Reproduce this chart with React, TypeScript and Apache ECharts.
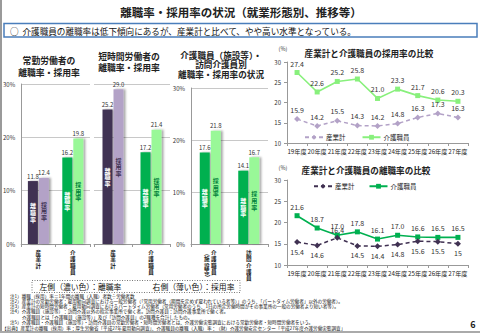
import React, { useEffect, useRef } from "react";
import * as echarts from "echarts";

const FONT = "'Noto Sans CJK JP', 'Noto Sans', sans-serif";

// 常勤労働者
const fullCats = ["産業計", "介護職員"];
const fullSep = [11.8, 16.2];
const fullHire = [12.4, 19.8];
// 短時間労働者
const partCats = ["産業計", "介護職員"];
const partSep = [25.2, 17.2];
const partHire = [29.0, 21.4];
// 介護職員（施設等）・訪問介護員
const careCats = ["介護職員（施設等）", "訪問介護員"];
const careSep = [17.6, 14.1];
const careHire = [21.8, 16.7];
const barTicks = ["0%", "10%", "20%", "30%"];

// 推移
const years = ["19年度", "20年度", "21年度", "22年度", "23年度", "24年度", "25年度", "26年度", "27年度"];
const hireIndustry = [15.9, 14.2, 15.5, 14.3, 14.2, 14.8, 16.3, 17.3, 16.3];
const hireCare = [27.4, 22.6, 25.2, 25.8, 21.0, 23.3, 21.7, 20.6, 20.3];
const sepIndustry = [15.4, 14.6, 16.4, 14.5, 14.4, 14.8, 15.6, 15.5, 15.0];
const sepCare = [21.6, 18.7, 17.0, 17.8, 16.1, 17.0, 16.6, 16.5, 16.5];

const notes = [
  "注1）離職（採用）率＝1年間の離職（入職）者数÷労働者数",
  "注2）産業計の常勤労働者：雇用動向調査における一般労働者（「常用労働者（期間を定めず雇われている者等）」のうち、「パートタイム労働者」以外の労働者）。",
  "注3）産業計の短時間労働者：雇用動向調査におけるパートタイム労働者（常用労働者のうち、1日の所定労働時間がその事業所の一般の労働者より短い者等）。",
  "注4）介護職員（施設等）：訪問介護以外の指定事業所で働く者。訪問介護員：訪問介護事業所で働く者。",
  "介護職員とは「介護職員（施設等）」及び「訪問介護員」の2職種を合計したもの。",
  "注5）介護職員・介護職員（施設等）・訪問介護員の常勤労働者・短時間労働者とは、介護労働実態調査における常勤労働者・短時間労働者をいう。",
  "【出典】産業計の離職（採用）率：厚生労働省「平成27年雇用動向調査」、介護職員の離職（入職）率：（財）介護労働安定センター「平成27年度介護労働実態調査」",
];

const DARK_P = "#403152";
const LIGHT_P = "#b3a2c7";
const DARK_G = "#00b050";
const LIGHT_G = "#99f898";

const vert = (s: string) => s.split("").join("\n");

export default function App() {
  const ref = useRef<HTMLDivElement>(null);
  useEffect(() => {
    if (!ref.current) return;
    const chart = echarts.init(ref.current, undefined, { renderer: "svg" });

    const catLabel = (v: string) => {
      if (v === "介護職員（施設等）") return "︵ 介\n施 護\n設 職\n等 員\n︶　";
      return vert(v);
    };

    const barX = (grid: number, cats: string[], show: boolean) => ({
      type: "category",
      gridIndex: grid,
      data: cats,
      show,
      axisLine: { show: true, lineStyle: { color: "#999" } },
      axisTick: { show: true, length: 3, lineStyle: { color: "#999" } },
      axisLabel: {
        interval: 0,
        fontSize: 5.6,
        lineHeight: 6.2,
        margin: 6,
        color: "#222",
        fontFamily: FONT,
        fontWeight: "bold",
        formatter: catLabel,
      },
    });
    const barY = (grid: number, showLabels: boolean) => ({
      type: "value",
      gridIndex: grid,
      min: 0,
      max: 30,
      interval: 10,
      axisLine: { show: showLabels, lineStyle: { color: "#999" } },
      axisTick: { show: false },
      splitLine: { lineStyle: { color: "#c8c8c8", width: 1 } },
      axisLabel: {
        show: showLabels,
        fontSize: 6,
        color: "#333",
        margin: 6,
        fontFamily: FONT,
        formatter: (v: number) => barTicks[v / 10],
      },
    });

    const shadow = {
      shadowColor: "rgba(0,0,0,0.35)",
      shadowBlur: 2,
      shadowOffsetX: 2,
      shadowOffsetY: 0,
    };

    const barSeries = (
      xi: number,
      yi: number,
      vals: number[],
      colors: string[],
    ) => ({
      type: "bar",
      xAxisIndex: xi,
      yAxisIndex: yi,
      barWidth: 10,
      barGap: "10%",
      silent: true,
      data: vals.map((v, i) => ({ value: v, itemStyle: { color: colors[i], ...shadow } })),
      label: {
        show: true,
        position: "top",
        distance: 2,
        fontSize: 6,
        color: "#333",
        fontFamily: FONT,
        formatter: (p: any) => Number(p.value).toFixed(1),
      },
    });
    const overlaySeries = (
      xi: number,
      yi: number,
      vals: number[],
      text: string,
      labelColors: string[],
    ) => ({
      type: "bar",
      xAxisIndex: xi,
      yAxisIndex: yi,
      barWidth: 10,
      barGap: "10%",
      silent: true,
      itemStyle: { color: "rgba(0,0,0,0)" },
      data: vals.map((v, i) => ({ value: v, label: { color: labelColors[i] } })),
      label: {
        show: true,
        position: "inside",
        fontSize: 6,
        lineHeight: 6.6,
        fontWeight: "bold",
        fontFamily: FONT,
        formatter: vert(text),
      },
    });

    const lineX = (grid: number) => ({
      type: "category",
      gridIndex: grid,
      data: years,
      boundaryGap: true,
      axisLine: { lineStyle: { color: "#999" } },
      axisTick: { show: true, length: 3, lineStyle: { color: "#999" } },
      axisLabel: { interval: 0, fontSize: 6.2, margin: 5, color: "#222", fontFamily: FONT },
    });
    const lineY = (grid: number) => ({
      type: "value",
      gridIndex: grid,
      min: 10,
      max: 30,
      interval: 5,
      splitLine: { show: false },
      axisLine: { show: true, lineStyle: { color: "#999" } },
      axisTick: { show: true, length: 3, lineStyle: { color: "#999" } },
      axisLabel: { fontSize: 6, color: "#333", margin: 6, fontFamily: FONT },
    });

    const lineLabel = (pos: string, fmt: (v: number) => string) => ({
      show: true,
      position: pos,
      distance: 3,
      fontSize: 7,
      color: "#333",
      fontFamily: FONT,
      formatter: (p: any) => fmt(Number(p.value)),
    });

    const legendFmt = (n: string) => n.split("・")[1];

    const graphics: any[] = [
      { type: "rect", shape: { x: 0, y: 0, width: 2, height: 333 }, style: { fill: "#9a9a9a" } },
      { type: "rect", shape: { x: 0, y: 331, width: 480, height: 2 }, style: { fill: "#aaaaaa" } },
      {
        type: "text",
        x: 241,
        y: 12,
        style: {
          text: "離職率・採用率の状況（就業形態別、推移等）",
          font: `bold 11.5px ${FONT}`,
          fill: "#222",
          textAlign: "center",
          textVerticalAlign: "middle",
        },
      },
      {
        type: "rect",
        shape: { x: 4, y: 23.5, width: 473, height: 13.5 },
        style: { fill: "#fff", stroke: "#4a7ebb", lineWidth: 1.5 },
      },
      {
        type: "text",
        x: 10,
        y: 30.5,
        style: {
          text: "○  介護職員の離職率は低下傾向にあるが、産業計と比べて、やや高い水準となっている。",
          font: `8.6px ${FONT}`,
          fill: "#111",
          textAlign: "left",
          textVerticalAlign: "middle",
        },
      },
      {
        type: "text",
        x: 49,
        y: 66,
        style: {
          text: "常勤労働者の\n離職率・採用率",
          font: `bold 8.8px ${FONT}`,
          lineHeight: 12,
          fill: "#222",
          textAlign: "center",
          textVerticalAlign: "middle",
        },
      },
      {
        type: "text",
        x: 129,
        y: 62,
        style: {
          text: "短時間労働者の\n離職率・採用率",
          font: `bold 8.8px ${FONT}`,
          lineHeight: 11,
          fill: "#222",
          textAlign: "center",
          textVerticalAlign: "middle",
        },
      },
      {
        type: "text",
        x: 221,
        y: 64,
        style: {
          text: "介護職員（施設等）・\n訪問介護員別\n離職率・採用率の状況",
          font: `bold 8.6px ${FONT}`,
          lineHeight: 9.5,
          fill: "#222",
          textAlign: "center",
          textVerticalAlign: "middle",
        },
      },
      {
        type: "text",
        x: 369,
        y: 53,
        style: {
          text: "産業計と介護職員の採用率の比較",
          font: `bold 8.6px ${FONT}`,
          fill: "#222",
          textAlign: "center",
          textVerticalAlign: "middle",
        },
      },
      {
        type: "text",
        x: 366,
        y: 170,
        style: {
          text: "産業計と介護職員の離職率の比較",
          font: `bold 8.6px ${FONT}`,
          fill: "#222",
          textAlign: "center",
          textVerticalAlign: "middle",
        },
      },
      {
        type: "text",
        x: 283,
        y: 49,
        style: { text: "(%)", font: `5.5px ${FONT}`, fill: "#333", textAlign: "center", textVerticalAlign: "middle" },
      },
      {
        type: "text",
        x: 283,
        y: 168,
        style: { text: "(%)", font: `5.5px ${FONT}`, fill: "#333", textAlign: "center", textVerticalAlign: "middle" },
      },
      {
        type: "rect",
        shape: { x: 32, y: 280.5, width: 208, height: 12 },
        style: { fill: "none", stroke: "#555", lineWidth: 0.8, lineDash: [1, 1.5] },
      },
      {
        type: "text",
        x: 137,
        y: 286.5,
        style: {
          text: "左側（濃い色）：離職率　　　　右側（薄い色）：採用率",
          font: `7.8px ${FONT}`,
          fill: "#111",
          textAlign: "center",
          textVerticalAlign: "middle",
        },
      },
      {
        type: "text",
        x: 473,
        y: 324,
        style: { text: "6", font: `bold 9px ${FONT}`, fill: "#222", textAlign: "center", textVerticalAlign: "middle" },
      },
    ];
    const noteY = [296, 301, 306, 311, 316.5, 322, 327.5];
    const noteX = [10, 10, 10, 10, 22, 10, 2];
    notes.forEach((t, i) => {
      graphics.push({
        type: "text",
        x: noteX[i],
        y: noteY[i],
        style: {
          text: t,
          font: `4.6px ${FONT}`,
          fill: "#111",
          textAlign: "left",
          textVerticalAlign: "middle",
        },
      });
    });

    const option: any = {
      animation: false,
      backgroundColor: "#fff",
      textStyle: { fontFamily: FONT },
      grid: [
        { left: 21, top: 84, width: 69, height: 160 },
        { left: 94, top: 84, width: 76, height: 160 },
        { left: 191, top: 88, width: 77, height: 156 },
        { left: 287, top: 62, width: 181, height: 81 },
        { left: 287, top: 180, width: 181, height: 85 },
      ],
      xAxis: [
        barX(0, fullCats, true),
        barX(1, partCats, true),
        barX(2, careCats, true),
        barX(0, fullCats, false),
        barX(1, partCats, false),
        barX(2, careCats, false),
        lineX(3),
        lineX(4),
      ],
      yAxis: [barY(0, true), barY(1, false), barY(2, true), lineY(3), lineY(4)],
      legend: [
        {
          data: ["採用率・産業計", "採用率・介護職員"],
          left: 299,
          top: 129,
          itemWidth: 18,
          itemHeight: 6,
          itemGap: 16,
          selectedMode: false,
          formatter: legendFmt,
          textStyle: { fontSize: 6.5, color: "#222", fontFamily: FONT, padding: [0, 0, 0, -2] },
        },
        {
          data: ["離職率・産業計", "離職率・介護職員"],
          left: 308,
          top: 178,
          itemWidth: 18,
          itemHeight: 6,
          itemGap: 14,
          selectedMode: false,
          formatter: legendFmt,
          textStyle: { fontSize: 6.5, color: "#222", fontFamily: FONT, padding: [0, 0, 0, -2] },
        },
      ],
      series: [
        barSeries(0, 0, fullSep, [DARK_P, DARK_G]),
        barSeries(0, 0, fullHire, [LIGHT_P, LIGHT_G]),
        overlaySeries(3, 0, fullSep, "離職率", ["#fff", "#fff"]),
        overlaySeries(3, 0, fullHire, "採用率", [DARK_P, "#00803a"]),
        barSeries(1, 1, partSep, [DARK_P, DARK_G]),
        barSeries(1, 1, partHire, [LIGHT_P, LIGHT_G]),
        overlaySeries(4, 1, partSep, "離職率", ["#fff", "#fff"]),
        overlaySeries(4, 1, partHire, "採用率", [DARK_P, "#00803a"]),
        barSeries(2, 2, careSep, [DARK_G, DARK_G]),
        barSeries(2, 2, careHire, [LIGHT_G, LIGHT_G]),
        overlaySeries(5, 2, careSep, "離職率", ["#fff", "#fff"]),
        overlaySeries(5, 2, careHire, "採用率", ["#00803a", "#00803a"]),
        {
          name: "採用率・産業計",
          type: "line",
          xAxisIndex: 6,
          yAxisIndex: 3,
          data: hireIndustry,
          color: LIGHT_P,
          symbol: "diamond",
          symbolSize: 6,
          lineStyle: { width: 1.5, type: [4, 3], color: LIGHT_P },
          itemStyle: { color: LIGHT_P },
          label: lineLabel("top", (v) => v.toFixed(1)),
        },
        {
          name: "採用率・介護職員",
          type: "line",
          xAxisIndex: 6,
          yAxisIndex: 3,
          data: hireCare,
          color: "#88f07c",
          symbol: "rect",
          symbolSize: 5,
          lineStyle: { width: 1.6, color: "#88f07c" },
          itemStyle: { color: "#88f07c" },
          label: lineLabel("top", (v) => v.toFixed(1)),
        },
        {
          name: "離職率・産業計",
          type: "line",
          xAxisIndex: 7,
          yAxisIndex: 4,
          data: sepIndustry.map((v, i) => (i === 2 ? { value: v, label: { position: "top", distance: 1 } } : v)),
          color: DARK_P,
          symbol: "diamond",
          symbolSize: 6,
          z: 3,
          lineStyle: { width: 1.5, type: [4, 3], color: DARK_P },
          itemStyle: { color: DARK_P },
          label: lineLabel("bottom", (v) => String(v)),
        },
        {
          name: "離職率・介護職員",
          type: "line",
          xAxisIndex: 7,
          yAxisIndex: 4,
          data: sepCare,
          color: DARK_G,
          symbol: "rect",
          symbolSize: 5,
          z: 2,
          lineStyle: { width: 1.6, color: DARK_G },
          itemStyle: { color: DARK_G },
          label: lineLabel("top", (v) => v.toFixed(1)),
        },
      ],
      graphic: graphics,
    };
    chart.setOption(option);
    return () => chart.dispose();
  }, []);
  return (
    <div
      ref={ref}
      style={{ position: "fixed", left: 0, top: 0, width: 480, height: 333 }}
    />
  );
}
